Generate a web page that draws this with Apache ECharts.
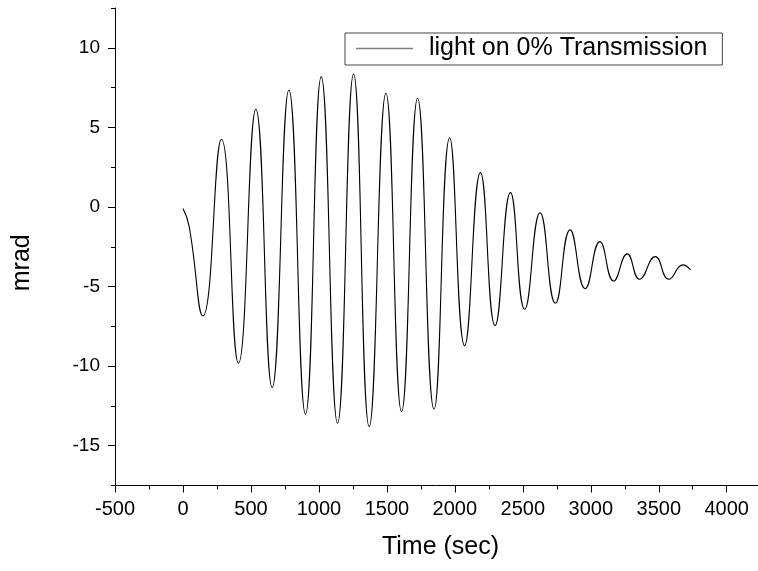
<!DOCTYPE html>
<html>
<head>
<meta charset="UTF-8">
<title>light on 0% Transmission</title>
<script src="https://cdn.jsdelivr.net/npm/echarts@6/dist/echarts.min.js"></script>
<style>
  html, body { margin: 0; padding: 0; background: #fff; }
  #chart { width: 758px; height: 571px; }
</style>
</head>
<body>
<div id="chart"></div>
<script>
// readings: start, then each trough / peak, then the noisy tail
var timeSec = [0, 45, 146, 283, 408, 536, 656, 779, 901, 1017, 1137, 1255, 1370, 1493, 1608, 1726,
  1847, 1962, 2072, 2188, 2296, 2409, 2514, 2627, 2740, 2848, 2959, 3067, 3169, 3268, 3359, 3474,
  3574, 3678, 3734];
var mradVals = [-0.1, -1.2, -6.85, 4.25, -9.82, 6.14, -11.35, 7.35, -13.02, 8.19, -13.59, 8.35,
  -13.8, 7.14, -12.86, 6.83, -12.71, 4.35, -8.71, 2.16, -7.45, 0.9, -6.43, -0.36, -6.05, -1.44,
  -5.13, -2.18, -4.65, -2.95, -4.54, -3.12, -4.54, -3.64, -3.96];

// axis ticks
var yTicks = [-15, -10, -5, 0, 5, 10];
var yMinorTicks = [-17.5, -12.5, -7.5, -2.5, 2.5, 7.5, 12.5];

var seriesName = 'light on 0% Transmission';
var font = "'Liberation Sans', Arial, sans-serif";

var points = timeSec.map(function (t, i) { return [t, mradVals[i]]; });

var chart = echarts.init(document.getElementById('chart'));
var option = {
  backgroundColor: '#fff',
  animation: false,
  grid: { left: 115, top: 8, right: 0, bottom: 85.5 },
  legend: {
    left: 345, top: 33,
    padding: [3, 15, 4, 11],
    borderColor: '#444', borderWidth: 1,
    icon: 'rect', itemWidth: 57, itemHeight: 1.5, itemGap: 0,
    itemStyle: { color: '#808080' },
    textStyle: { fontFamily: font, fontSize: 25, color: '#000', padding: [0, 0, 0, 11] },
    data: [seriesName]
  },
  xAxis: {
    type: 'value',
    min: -500, max: 4230, interval: 500,
    name: 'Time (sec)', nameLocation: 'middle', nameGap: 49,
    nameTextStyle: { fontFamily: font, fontSize: 25, color: '#000', padding: [0, 0, 0, 8] },
    axisLine: { onZero: false, lineStyle: { color: '#000', width: 1 } },
    axisTick: { length: 7, lineStyle: { color: '#000' } },
    minorTick: { show: true, splitNumber: 2, length: 4, lineStyle: { color: '#000' } },
    axisLabel: {
      fontFamily: font, fontSize: 20, color: '#000', margin: 14, showMaxLabel: false,
      formatter: function (v) { return String(v); }
    },
    splitLine: { show: false }
  },
  yAxis: [{
    type: 'value',
    min: -17.5, max: 12.5,
    name: 'mrad', nameLocation: 'middle', nameGap: 80, nameRotate: 90,
    nameTextStyle: { fontFamily: font, fontSize: 25, color: '#000', padding: [0, 32, 0, 0] },
    axisLine: { show: true, onZero: false, lineStyle: { color: '#000', width: 1 } },
    axisTick: { show: true, length: 7, customValues: yTicks, lineStyle: { color: '#000' } },
    axisLabel: { fontFamily: font, fontSize: 19, color: '#000', margin: 15, customValues: yTicks },
    splitLine: { show: false }
  }, {
    type: 'value',
    position: 'left',
    min: -17.5, max: 12.5,
    axisLine: { show: false, onZero: false },
    axisTick: { show: true, length: 4, customValues: yMinorTicks, lineStyle: { color: '#000' } },
    axisLabel: { show: false },
    splitLine: { show: false }
  }],
  series: [{
    name: seriesName,
    type: 'line',
    data: points,
    smooth: 0.5,
    symbol: 'none',
    lineStyle: { color: '#000', width: 1.1 }
  }]
};
chart.setOption(option);
</script>
</body>
</html>
